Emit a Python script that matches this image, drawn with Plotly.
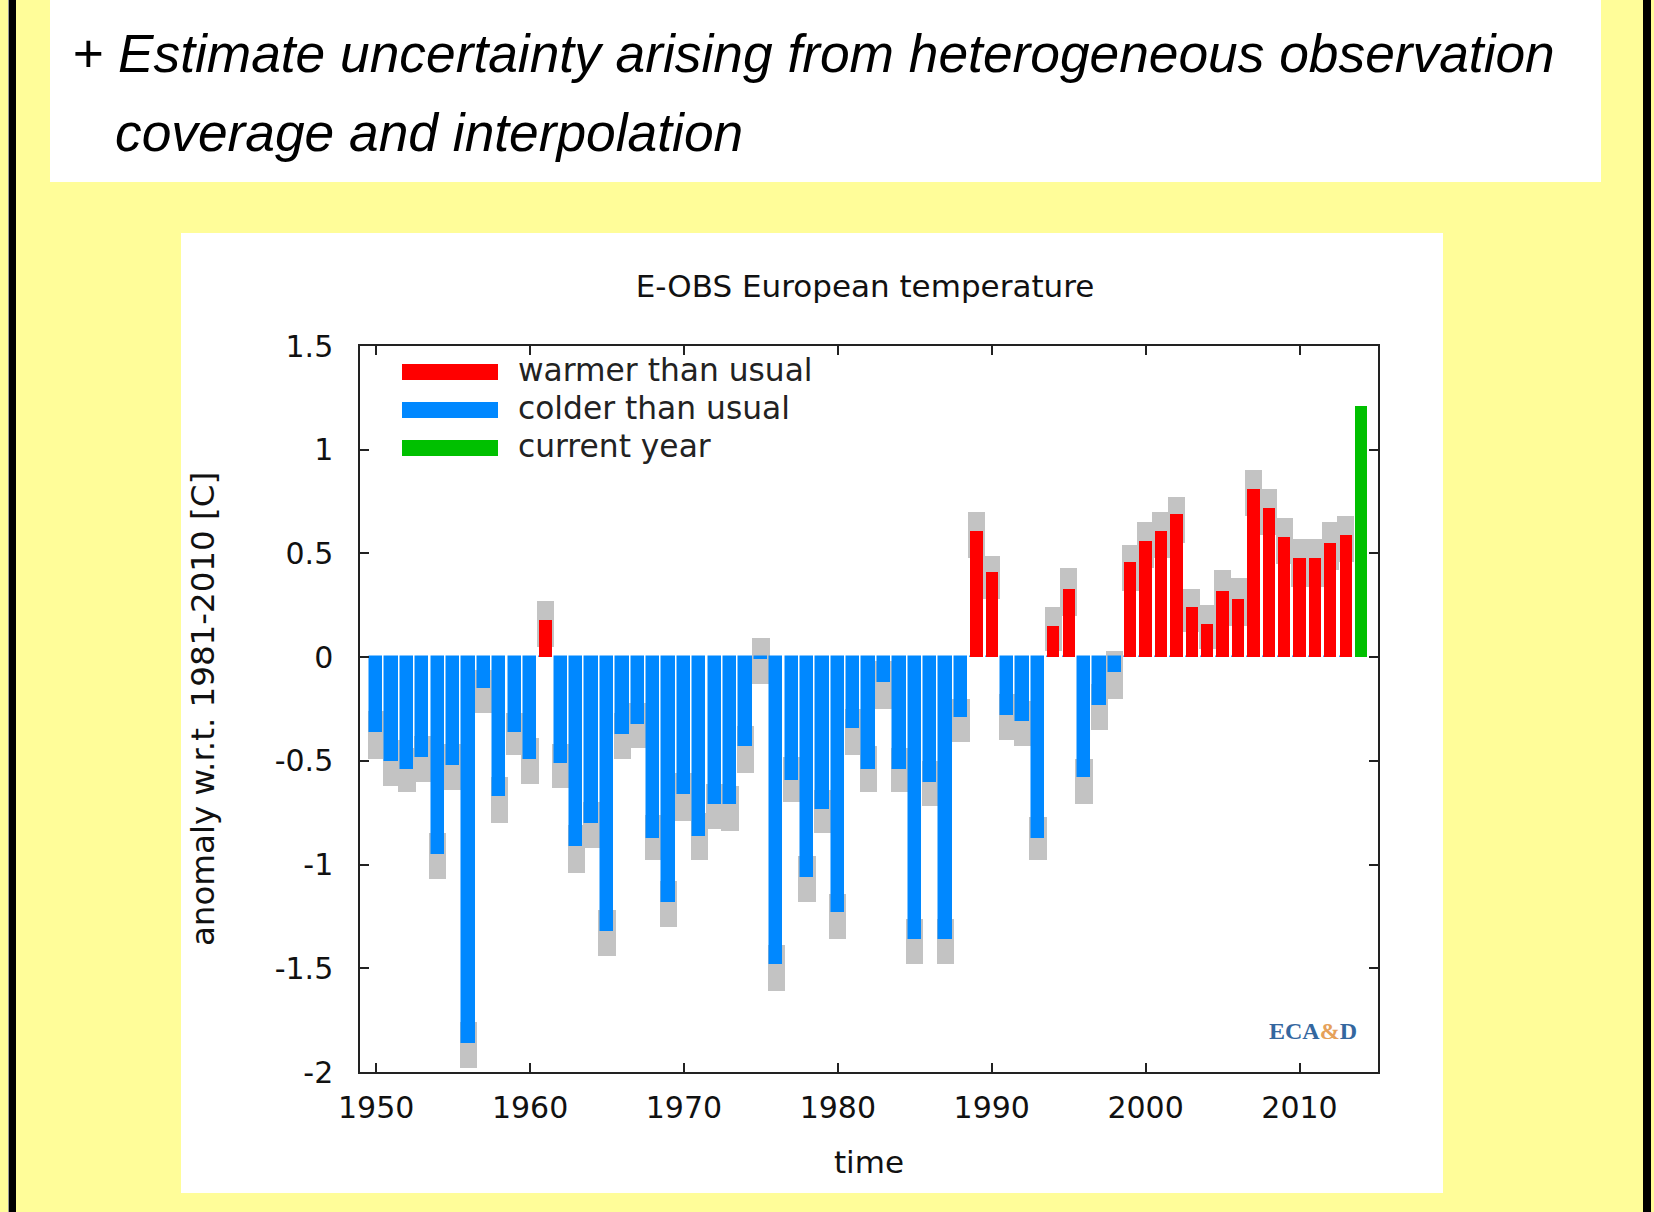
import plotly.graph_objects as go

# ---------------- data ----------------
years = list(range(1950, 2015))
anomaly = [-0.36, -0.50, -0.54, -0.48, -0.95, -0.52, -1.86, -0.15, -0.67, -0.36,
           -0.49, 0.18, -0.51, -0.91, -0.80, -1.32, -0.37, -0.32, -0.87, -1.18,
           -0.66, -0.86, -0.71, -0.71, -0.43, -0.01, -1.48, -0.59, -1.06, -0.73,
           -1.23, -0.34, -0.54, -0.12, -0.54, -1.36, -0.60, -1.36, -0.29, 0.61,
           0.41, -0.28, -0.31, -0.87, 0.15, 0.33, -0.58, -0.23, -0.07, 0.46,
           0.56, 0.61, 0.69, 0.24, 0.16, 0.32, 0.28, 0.81, 0.72, 0.58,
           0.48, 0.48, 0.55, 0.59, 1.21]
unc_low = [-0.49, -0.62, -0.65, -0.60, -1.07, -0.64, -1.98, -0.27, -0.80, -0.47,
           -0.61, 0.05, -0.63, -1.04, -0.92, -1.44, -0.49, -0.44, -0.98, -1.30,
           -0.79, -0.98, -0.83, -0.84, -0.56, -0.13, -1.61, -0.70, -1.18, -0.85,
           -1.36, -0.47, -0.65, -0.25, -0.65, -1.48, -0.72, -1.48, -0.41, 0.48,
           0.28, -0.40, -0.43, -0.98, 0.03, 0.20, -0.71, -0.35, -0.20, 0.32,
           0.43, 0.48, 0.55, 0.12, 0.04, 0.20, 0.15, 0.68, 0.59, 0.45,
           0.34, 0.34, 0.42, 0.46, None]
unc_high = [-0.26, -0.40, -0.44, -0.38, -0.85, -0.42, -1.76, -0.06, -0.58, -0.27,
            -0.39, 0.27, -0.42, -0.81, -0.70, -1.22, -0.27, -0.22, -0.76, -1.08,
            -0.56, -0.75, -0.61, -0.62, -0.33, 0.09, -1.39, -0.48, -0.96, -0.64,
            -1.14, -0.25, -0.43, -0.02, -0.44, -1.26, -0.50, -1.26, -0.20, 0.70,
            0.49, -0.18, -0.21, -0.77, 0.24, 0.43, -0.49, -0.13, 0.03, 0.54,
            0.65, 0.70, 0.77, 0.33, 0.25, 0.42, 0.38, 0.90, 0.81, 0.67,
            0.57, 0.57, 0.65, 0.68, None]
current_year = 2014
x_ticks = [1950, 1960, 1970, 1980, 1990, 2000, 2010]
y_ticks = [-2, -1.5, -1, -0.5, 0, 0.5, 1, 1.5]
y_tick_labels = ["-2", "-1.5", "-1", "-0.5", "0", "0.5", "1", "1.5"]
legend_names = ["warmer than usual", "colder than usual", "current year"]

# ---------------- styling ----------------
RED, BLUE, GREEN, GRAY = "#ff0000", "#0088ff", "#00c000", "#c3c3c3"
YELLOW = "#fffd99"
FONT = "DejaVu Sans"
W, H = 1654, 1212
L, R, T, B = 360, 1378, 346, 1072   # plot area in pixels


def fx(p):
    return (p - L) / (R - L)


def fy(p):
    return (B - p) / (B - T)


warm = [v if (v > 0 and y != current_year) else None for y, v in zip(years, anomaly)]
cold = [min(v, 0) if y != current_year else None for y, v in zip(years, anomaly)]
cur = [v if y == current_year else None for y, v in zip(years, anomaly)]
unc_base = unc_low
unc_span = [None if lo is None else hi - lo for lo, hi in zip(unc_low, unc_high)]

fig = go.Figure()
fig.add_trace(go.Bar(x=years, y=unc_span, base=unc_base, width=1.12,
                     marker=dict(color=GRAY, line=dict(width=0)), showlegend=False,
                     name="uncertainty"))
fig.add_trace(go.Bar(x=years, y=cold, width=0.8,
                     marker=dict(color=BLUE, line=dict(color=BLUE, width=1.5)),
                     showlegend=False, name=legend_names[1]))
fig.add_trace(go.Bar(x=years, y=warm, width=0.8,
                     marker=dict(color=RED, line=dict(width=0)), showlegend=False,
                     name=legend_names[0]))
fig.add_trace(go.Bar(x=years, y=cur, width=0.8,
                     marker=dict(color=GREEN, line=dict(width=0)), showlegend=False,
                     name=legend_names[2]))

shapes = [
    # slide decorations
    dict(type="rect", xref="paper", yref="paper", x0=fx(8), x1=fx(9), y0=fy(0), y1=fy(H),
         fillcolor="#9a9a9a", line=dict(width=0), layer="below"),
    dict(type="rect", xref="paper", yref="paper", x0=fx(9), x1=fx(16), y0=fy(0), y1=fy(H),
         fillcolor="black", line=dict(width=0), layer="below"),
    dict(type="rect", xref="paper", yref="paper", x0=fx(1643), x1=fx(1651), y0=fy(0), y1=fy(H),
         fillcolor="black", line=dict(width=0), layer="below"),
    dict(type="rect", xref="paper", yref="paper", x0=fx(50), x1=fx(1601), y0=fy(0), y1=fy(182),
         fillcolor="white", line=dict(width=0), layer="below"),
    dict(type="rect", xref="paper", yref="paper", x0=fx(181), x1=fx(1443), y0=fy(233), y1=fy(1193),
         fillcolor="white", line=dict(width=0), layer="below"),
]
annotations = [
    dict(text="+ Estimate uncertainty arising from heterogeneous observation",
         xref="paper", yref="paper", x=fx(70), y=fy(53), xanchor="left", yanchor="middle",
         showarrow=False, font=dict(family="Liberation Sans", size=53.3, color="black", style="italic")),
    dict(text="coverage and interpolation",
         xref="paper", yref="paper", x=fx(113), y=fy(132), xanchor="left", yanchor="middle",
         showarrow=False, font=dict(family="Liberation Sans", size=53.3, color="black", style="italic")),
    dict(text="<b>ECA<span style='color:#e6a15a'>&amp;</span>D</b>",
         xref="paper", yref="paper", x=fx(1313), y=fy(1031), xanchor="center", yanchor="middle",
         showarrow=False, font=dict(family="Liberation Serif", size=24, color="#34679f")),
]
# legend (gnuplot-style wide swatches)
leg_colors = [RED, BLUE, GREEN]
leg_y = [372, 410, 448]
for name, col, yc in zip(legend_names, leg_colors, leg_y):
    shapes.append(dict(type="rect", xref="paper", yref="paper", x0=fx(402), x1=fx(498),
                       y0=fy(yc - 8), y1=fy(yc + 8), fillcolor=col, line=dict(width=0)))
    annotations.append(dict(text=name, xref="paper", yref="paper", x=fx(516), y=fy(yc - 2),
                            xanchor="left", yanchor="middle", showarrow=False,
                            font=dict(family=FONT, size=31.3, color="#222222")))

fig.update_layout(
    width=W, height=H,
    margin=dict(l=L, r=W - R, t=T, b=H - B, pad=0),
    paper_bgcolor=YELLOW, plot_bgcolor="white",
    barmode="overlay", bargap=0,
    showlegend=False,
    title=dict(text="E-OBS European temperature", x=865 / W, xref="container", xanchor="center",
               y=1 - 286 / H, yanchor="middle", yref="container",
               font=dict(family=FONT, size=31, color="#111111")),
    shapes=shapes, annotations=annotations,
    font=dict(family=FONT, color="#111111"),
)
fig.update_xaxes(range=[1948.95, 2015.1], tickvals=x_ticks, ticktext=[str(t) for t in x_ticks],
                 ticks="inside", ticklen=9, tickwidth=1.5, tickcolor="#222222",
                 showline=True, linecolor="#222222", linewidth=1.5, mirror="ticks",
                 showgrid=False, zeroline=False, tickfont=dict(family=FONT, size=30),
                 ticklabelstandoff=8,
                 title=dict(text="time", font=dict(family=FONT, size=31), standoff=28))
fig.update_yaxes(range=[-2, 1.5], tickvals=y_ticks, ticktext=y_tick_labels,
                 ticks="inside", ticklen=9, tickwidth=1.5, tickcolor="#222222",
                 showline=True, linecolor="#222222", linewidth=1.5, mirror="ticks",
                 showgrid=False, zeroline=False, tickfont=dict(family=FONT, size=30),
                 ticklabelstandoff=19,
                 title=dict(text="anomaly w.r.t. 1981-2010 [C]", font=dict(family=FONT, size=32.5),
                            standoff=50))

fig.write_html("out.html", config={"displayModeBar": False},
               post_script="document.body.style.margin='0';document.body.style.overflow='hidden';")
